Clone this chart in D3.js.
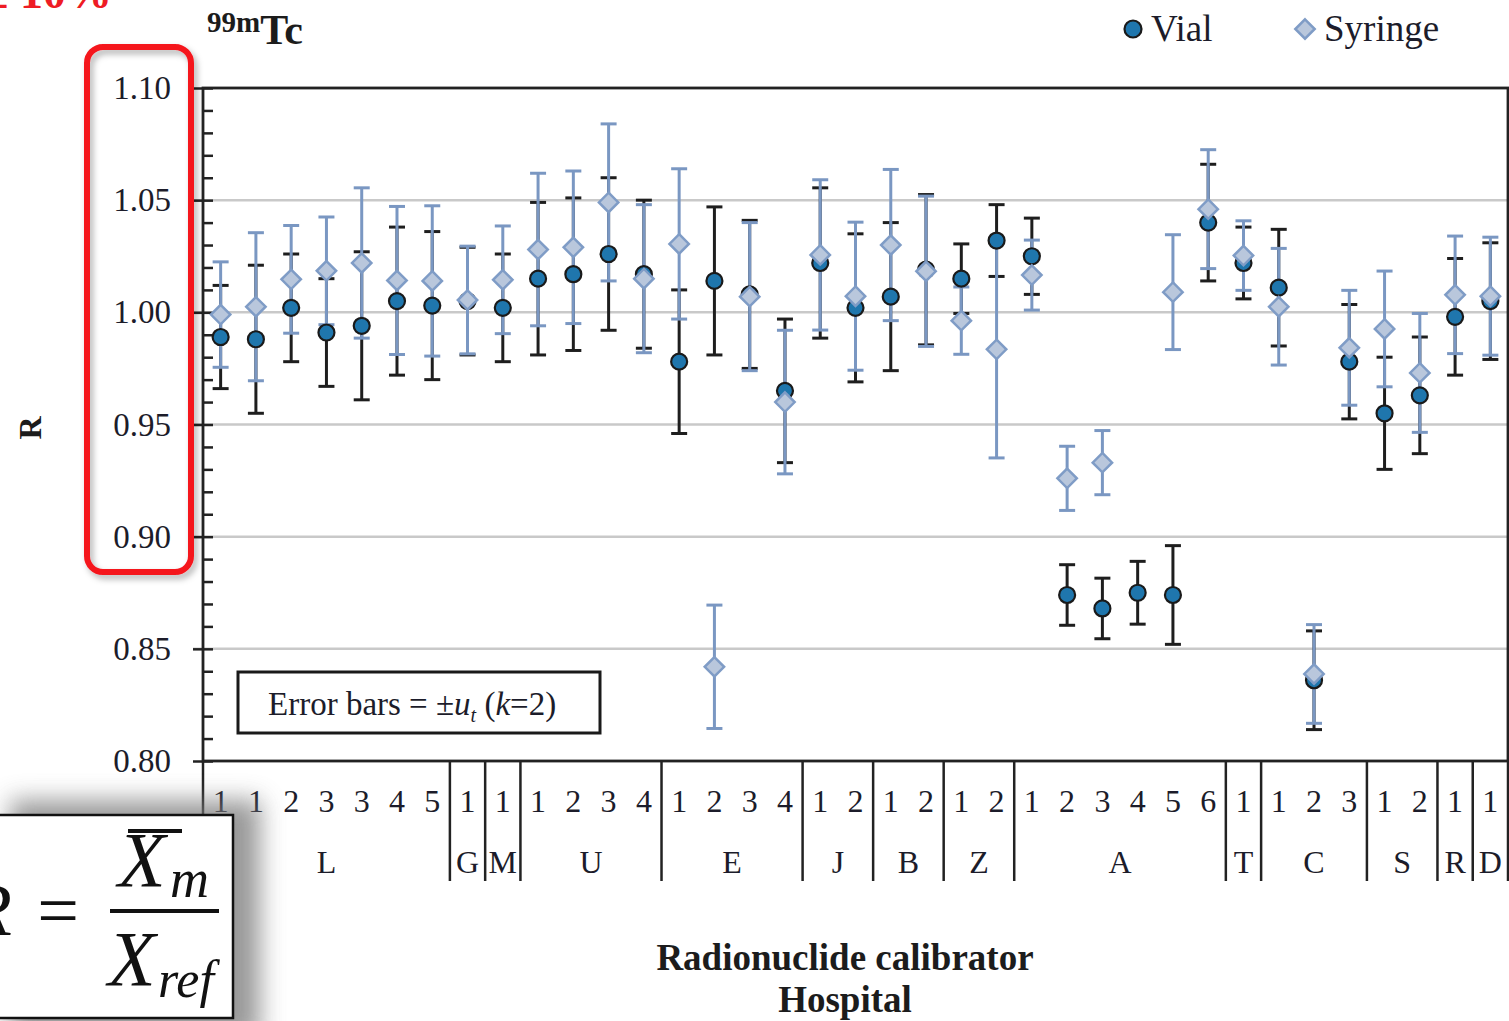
<!DOCTYPE html>
<html>
<head>
<meta charset="utf-8">
<script src="https://cdn.jsdelivr.net/npm/d3@7"></script>
<style>
  html, body { margin: 0; padding: 0; background: #fff; }
  svg { display: block; }
  svg text { font-family: "Liberation Serif", "Times New Roman", serif; }
</style>
</head>
<body>
<svg id="chart" width="1509" height="1021"></svg>
<script>
// ---------------- DATA ----------------
const groups = ["L", "G", "M", "U", "E", "J", "B", "Z", "A", "T", "C", "S", "R", "D"];
const groupSizes = [7, 1, 1, 4, 4, 2, 2, 2, 6, 1, 3, 2, 1, 1];
const calibrators = ["1","1","2","3","3","4","5","1","1","1","2","3","4","1","2","3","4",
                     "1","2","1","2","1","2","1","2","3","4","5","6","1","1","2","3","1","2","1","1"];

const vialR = [0.989, 0.988, 1.002, 0.991, 0.994, 1.005, 1.003, 1.005, 1.002, 1.015, 1.017, 1.026, 1.017,
               0.978, 1.014, 1.008, 0.965, 1.022, 1.002, 1.007, 1.019, 1.015, 1.032,
               1.025, 0.874, 0.868, 0.875, 0.874, 1.040, 1.022, 1.011, 0.836, 0.978,
               0.955, 0.963, 0.998, 1.005];
const vialU = [0.023, 0.033, 0.024, 0.024, 0.033, 0.033, 0.033, 0.024, 0.024, 0.034, 0.034, 0.034, 0.033,
               0.032, 0.033, 0.033, 0.032, 0.0335, 0.033, 0.033, 0.0335, 0.0155, 0.016,
               0.017, 0.0135, 0.0135, 0.014, 0.022, 0.026, 0.016, 0.026, 0.022, 0.0255,
               0.025, 0.026, 0.026, 0.026];

const syringeR = [0.999, 1.0025, 1.0147, 1.0185, 1.022, 1.0142, 1.014, 1.0055, 1.0145, 1.028, 1.029, 1.049, 1.015,
                  1.0305, 0.842, 1.007, 0.960, 1.0256, 1.0072, 1.030, 1.0183, 0.9963, 0.9835,
                  1.0166, 0.926, 0.933, null, 1.009, 1.046, 1.0253, 1.0025, 0.8388, 0.9842,
                  0.9926, 0.973, 1.0078, 1.0072];
const syringeU = [0.0235, 0.033, 0.024, 0.024, 0.0335, 0.033, 0.0335, 0.024, 0.024, 0.034, 0.034, 0.035, 0.033,
                  0.0335, 0.0275, 0.033, 0.032, 0.0335, 0.033, 0.0337, 0.0335, 0.015, 0.0484,
                  0.0156, 0.0143, 0.0143, null, 0.0256, 0.0265, 0.0155, 0.026, 0.022, 0.0256,
                  0.0258, 0.0265, 0.0262, 0.0263];

const yTicks = [0.80, 0.85, 0.90, 0.95, 1.00, 1.05, 1.10];

// ---------------- SETUP ----------------
const svg = d3.select("#chart");
const L = 203, R = 1508, T = 88, B = 761;
const SERIF = "'Liberation Serif', 'Times New Roman', serif";

const idx = d3.range(calibrators.length);
const x = d3.scaleBand().domain(idx).range([L, R]).padding(0);
const y = d3.scaleLinear().domain([0.80, 1.10]).range([B, T]);
const cx = i => x(i) + x.bandwidth() / 2;

const defs = svg.append("defs");
const sh = defs.append("filter").attr("id", "boxShadow")
  .attr("x", "-50%").attr("y", "-50%").attr("width", "200%").attr("height", "200%");
sh.append("feGaussianBlur").attr("stdDeviation", 12);

const sh2 = defs.append("filter").attr("id", "redShadow")
  .attr("x", "-30%").attr("y", "-10%").attr("width", "160%").attr("height", "120%");
sh2.append("feDropShadow").attr("dx", 3).attr("dy", 4).attr("stdDeviation", 3)
  .attr("flood-color", "#000").attr("flood-opacity", 0.3);

// gridlines (extend slightly left as outward major ticks)
svg.append("g").selectAll("line")
  .data(yTicks.filter(v => v > 0.801 && v < 1.099))
  .join("line")
  .attr("x1", L - 10).attr("x2", R)
  .attr("y1", d => y(d)).attr("y2", d => y(d))
  .attr("stroke", "#c9c9c9").attr("stroke-width", 2.5);

// minor inward ticks
const minorTicks = d3.range(0, 31).map(k => 0.80 + k * 0.01);
svg.append("g")
  .attr("transform", `translate(${L},0)`)
  .call(d3.axisLeft(y).tickValues(minorTicks).tickSize(-10).tickFormat(""))
  .call(g => g.select(".domain").remove())
  .call(g => g.selectAll(".tick line").attr("stroke", "#222").attr("stroke-width", 2.5));

// major tick labels
svg.append("g")
  .attr("transform", `translate(${L},0)`)
  .attr("font-family", SERIF)
  .call(d3.axisLeft(y).tickValues(yTicks).tickSize(10).tickPadding(22).tickFormat(d3.format(".2f")))
  .attr("font-family", SERIF)
  .call(g => g.select(".domain").remove())
  .call(g => g.selectAll(".tick line").attr("stroke", "#222").attr("stroke-width", 2.5))
  .call(g => g.selectAll(".tick text")
      .attr("font-family", SERIF)
      .attr("font-size", 33).attr("fill", "#1c1c2a"));

// frame
svg.append("rect").attr("x", L).attr("y", T).attr("width", R - L).attr("height", B - T)
  .attr("fill", "none").attr("stroke", "#222").attr("stroke-width", 2.8);

// category separators
const bounds = [0];
groupSizes.forEach((s, i) => bounds.push(bounds[i] + s));
const bx = b => b === calibrators.length ? R : x(b);
svg.append("g").selectAll("line")
  .data(bounds)
  .join("line")
  .attr("x1", d => bx(d)).attr("x2", d => bx(d))
  .attr("y1", B).attr("y2", 881)
  .attr("stroke", "#222").attr("stroke-width", 2.5);

// calibrator numbers
svg.append("g").selectAll("text")
  .data(calibrators)
  .join("text")
  .attr("x", (d, i) => cx(i)).attr("y", 812)
  .attr("text-anchor", "middle")
  .attr("font-family", SERIF)
  .attr("font-size", 32).attr("fill", "#1c1c2a")
  .text(d => d);

// hospital letters
svg.append("g").selectAll("text")
  .data(groups)
  .join("text")
  .attr("x", (d, i) => (bx(bounds[i]) + bx(bounds[i + 1])) / 2)
  .attr("y", 873)
  .attr("text-anchor", "middle")
  .attr("font-family", SERIF)
  .attr("font-size", 32).attr("fill", "#1c1c2a")
  .text(d => d);

// ---------------- ERROR BARS & MARKERS ----------------
const capW = 8;
function errBars(vals, us, color, cls) {
  const data = idx.filter(i => vals[i] != null).map(i => ({ i, v: vals[i], u: us[i] }));
  const g = svg.append("g").attr("class", cls);
  g.selectAll("line.v").data(data).join("line").attr("class", "v")
    .attr("x1", d => cx(d.i)).attr("x2", d => cx(d.i))
    .attr("y1", d => y(d.v + d.u)).attr("y2", d => y(d.v - d.u))
    .attr("stroke", color).attr("stroke-width", 3);
  g.selectAll("line.t").data(data).join("line").attr("class", "t")
    .attr("x1", d => cx(d.i) - capW).attr("x2", d => cx(d.i) + capW)
    .attr("y1", d => y(d.v + d.u)).attr("y2", d => y(d.v + d.u))
    .attr("stroke", color).attr("stroke-width", 3);
  g.selectAll("line.b").data(data).join("line").attr("class", "b")
    .attr("x1", d => cx(d.i) - capW).attr("x2", d => cx(d.i) + capW)
    .attr("y1", d => y(d.v - d.u)).attr("y2", d => y(d.v - d.u))
    .attr("stroke", color).attr("stroke-width", 3);
}
errBars(vialR, vialU, "#1e1e1e", "vialErr");
errBars(syringeR, syringeU, "#7a97c2", "syrErr");

const vialFill = "#1f76ad", vialStroke = "#1a1a1a";
const syrFill = "#b9c7dc", syrStroke = "#7f9cc6";

svg.append("g").selectAll("circle")
  .data(idx.filter(i => vialR[i] != null))
  .join("circle")
  .attr("cx", i => cx(i)).attr("cy", i => y(vialR[i])).attr("r", 8)
  .attr("fill", vialFill).attr("stroke", vialStroke).attr("stroke-width", 2.2);

const diamond = d3.symbol().type(d3.symbolDiamond2).size(240);
svg.append("g").selectAll("path")
  .data(idx.filter(i => syringeR[i] != null))
  .join("path")
  .attr("d", diamond)
  .attr("transform", i => `translate(${cx(i)},${y(syringeR[i])})`)
  .attr("fill", syrFill).attr("stroke", syrStroke).attr("stroke-width", 2.5);

// ---------------- LEGEND ----------------
svg.append("circle").attr("cx", 1133).attr("cy", 29).attr("r", 8.5)
  .attr("fill", vialFill).attr("stroke", vialStroke).attr("stroke-width", 2.2);
svg.append("text").attr("x", 1151).attr("y", 41).attr("font-family", SERIF)
  .attr("font-size", 37).attr("fill", "#1c1c2a").text("Vial");
svg.append("path").attr("d", diamond).attr("transform", "translate(1305,29)")
  .attr("fill", syrFill).attr("stroke", syrStroke).attr("stroke-width", 2.5);
svg.append("text").attr("x", 1324).attr("y", 41).attr("font-family", SERIF)
  .attr("font-size", 37).attr("fill", "#1c1c2a").text("Syringe");

// ---------------- TITLE ----------------
const title = svg.append("text").attr("x", 207).attr("y", 44).attr("font-family", SERIF)
  .attr("font-weight", "bold").attr("fill", "#1c1c1c");
title.append("tspan").attr("font-size", 29).attr("dy", -12).text("99m");
title.append("tspan").attr("font-size", 42).attr("dy", 12).text("Tc");

// Y axis label
svg.append("text")
  .attr("transform", "translate(41,428) rotate(-90)")
  .attr("text-anchor", "middle").attr("font-family", SERIF)
  .attr("font-weight", "bold").attr("font-size", 32).attr("fill", "#1c1c1c")
  .text("R");

// X axis title
svg.append("text").attr("x", 845).attr("y", 970).attr("text-anchor", "middle").attr("font-family", SERIF)
  .attr("font-weight", "bold").attr("font-size", 37).attr("fill", "#1c1c1c").text("Radionuclide calibrator");
svg.append("text").attr("x", 845).attr("y", 1012).attr("text-anchor", "middle").attr("font-family", SERIF)
  .attr("font-weight", "bold").attr("font-size", 37).attr("fill", "#1c1c1c").text("Hospital");

// Error bars note box
svg.append("rect").attr("x", 238).attr("y", 672).attr("width", 362).attr("height", 61)
  .attr("fill", "#fff").attr("stroke", "#1a1a1a").attr("stroke-width", 3);
const note = svg.append("text").attr("x", 268).attr("y", 715).attr("font-family", SERIF)
  .attr("font-size", 33).attr("fill", "#1c1c2a");
note.append("tspan").text("Error bars = \u00B1");
note.append("tspan").attr("font-style", "italic").text("u");
note.append("tspan").attr("font-style", "italic").attr("font-size", 20).attr("dy", 7).text("t");
note.append("tspan").attr("dy", -7).text(" (");
note.append("tspan").attr("font-style", "italic").text("k");
note.append("tspan").text("=2)");

// ---------------- ANNOTATIONS ----------------
// red "± 10%" (cut off at top)
svg.append("text").attr("x", 112).attr("y", 8).attr("text-anchor", "end").attr("font-family", SERIF)
  .attr("font-size", 46).attr("font-weight", "bold").attr("fill", "#ee1c24").text("\u00B1 10%");

// red rounded rectangle around the y tick labels
svg.append("rect").attr("x", 87).attr("y", 47).attr("width", 104).attr("height", 525)
  .attr("rx", 16).attr("ry", 16)
  .attr("fill", "none").attr("stroke", "#f5141c").attr("stroke-width", 6)
  .attr("filter", "url(#redShadow)");

// formula box with shadow
svg.append("rect").attr("x", 10).attr("y", 800).attr("width", 250).attr("height", 240)
  .attr("fill", "#777").attr("opacity", 0.75).attr("filter", "url(#boxShadow)");
svg.append("rect").attr("x", -5).attr("y", 815).attr("width", 238).attr("height", 203)
  .attr("fill", "#fff").attr("stroke", "#111").attr("stroke-width", 2.5);

const fg = svg.append("g").attr("fill", "#111").attr("font-family", SERIF);
fg.append("text").attr("x", 12).attr("y", 935).attr("text-anchor", "end")
  .attr("font-size", 74).attr("font-style", "italic").text("R");
fg.append("text").attr("x", 58).attr("y", 935).attr("text-anchor", "middle")
  .attr("font-size", 74).text("=");
fg.append("text").attr("x", 118).attr("y", 886).attr("font-size", 78).attr("font-style", "italic").text("X");
fg.append("line").attr("x1", 128).attr("x2", 182).attr("y1", 831).attr("y2", 831)
  .attr("stroke", "#111").attr("stroke-width", 4);
fg.append("text").attr("x", 170).attr("y", 897).attr("font-size", 54).attr("font-style", "italic").text("m");
fg.append("line").attr("x1", 110).attr("x2", 219).attr("y1", 911).attr("y2", 911)
  .attr("stroke", "#111").attr("stroke-width", 4);
fg.append("text").attr("x", 108).attr("y", 985).attr("font-size", 78).attr("font-style", "italic").text("X");
fg.append("text").attr("x", 158).attr("y", 997).attr("font-size", 52).attr("font-style", "italic").text("ref");
</script>
</body>
</html>
